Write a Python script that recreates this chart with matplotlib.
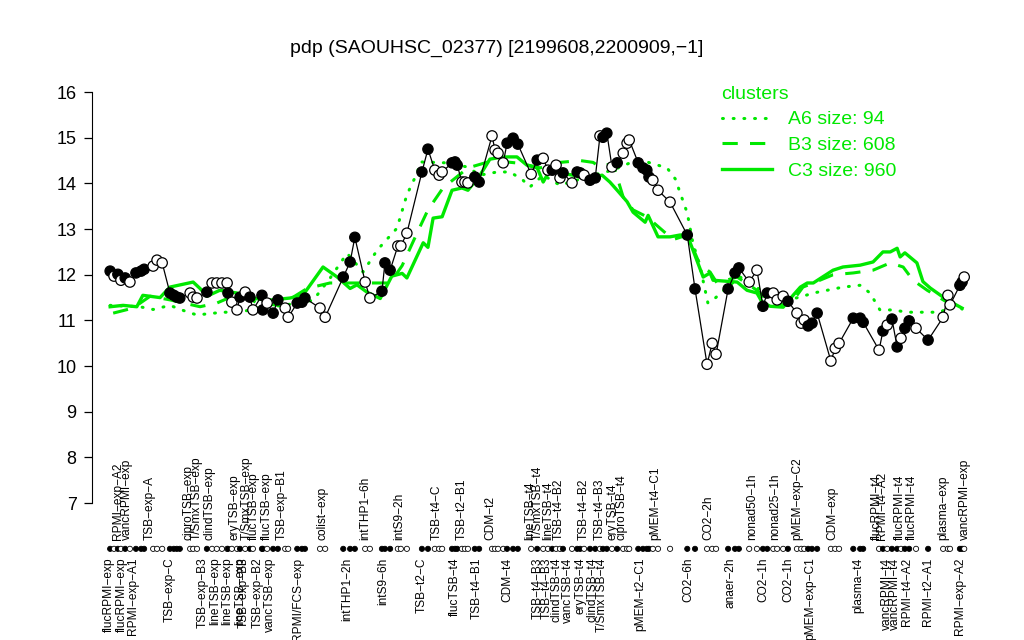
import matplotlib
matplotlib.use("Agg")
import matplotlib.pyplot as plt
from matplotlib.lines import Line2D

plt.rcParams['font.family'] = ['Liberation Sans', 'DejaVu Sans']

# samples: position along the ordering, expression value, filled (1) / open (0)
sample_pos = [0.5, 1.4, 2.3, 3.0, 4.0, 5.1, 6.5, 7.7, 8.4, 10.5, 11.4, 12.6,
              14.4, 15.3, 16.0, 16.7, 19.1, 19.8, 20.7, 23.0, 24.2, 25.3, 26.5, 27.7,
              27.9, 28.8, 30.0, 30.7, 31.9, 33.0, 33.7, 35.8, 36.0, 37.0, 38.4, 39.5,
              41.2, 41.9, 44.0, 45.1, 45.8, 49.3, 50.5, 54.7, 56.3, 57.4, 59.8, 60.9,
              63.7, 64.4, 65.6, 67.4, 68.1, 69.5, 73.0, 74.4, 76.0, 77.0, 77.7, 80.0,
              80.7, 81.2, 82.3, 83.0, 83.7, 85.3, 86.3, 89.3, 90.0, 90.7, 91.9, 92.8,
              94.2, 95.3, 98.4, 99.8, 101.2, 102.3, 103.3, 104.2, 105.1, 105.8, 107.9, 109.1,
              109.8, 110.7, 112.1, 113.3, 114.4, 115.1, 116.0, 117.2, 118.4, 119.8, 120.7, 121.2,
              123.3, 124.4, 125.3, 125.8, 126.7, 127.9, 130.7, 134.7, 136.5, 139.3, 140.5, 141.4,
              144.2, 145.8, 146.7, 149.1, 150.9, 152.3, 153.3, 154.7, 155.6, 157.0, 158.1, 160.2,
              161.2, 161.9, 162.8, 163.7, 164.9, 168.1, 169.1, 170.0, 173.3, 174.9, 175.6, 179.3,
              180.2, 181.2, 182.3, 183.5, 184.4, 185.3, 186.3, 187.9, 190.7, 194.2, 195.3, 195.8,
              198.1, 198.6, 199.1]
sample_val = [12.08, 11.97, 12.01, 11.88, 11.93, 11.84, 12.04, 12.08, 12.12, 12.19, 12.32, 12.26,
              11.60, 11.55, 11.51, 11.49, 11.60, 11.51, 11.49, 11.62, 11.82, 11.82, 11.82, 11.82,
              11.60, 11.40, 11.23, 11.51, 11.62, 11.51, 11.23, 11.55, 11.23, 11.38, 11.16, 11.45,
              11.27, 11.07, 11.38, 11.40, 11.49, 11.27, 11.07, 11.95, 12.28, 12.82, 11.84, 11.49,
              11.64, 12.26, 12.10, 12.63, 12.63, 12.91, 14.25, 14.75, 14.29, 14.18, 14.25, 14.45,
              14.47, 14.40, 14.03, 14.03, 14.01, 14.14, 14.03, 15.04, 14.73, 14.66, 14.45, 14.88,
              14.99, 14.86, 14.20, 14.51, 14.55, 14.29, 14.29, 14.40, 14.12, 14.23, 14.01, 14.25,
              14.23, 14.18, 14.07, 14.12, 15.04, 15.01, 15.10, 14.36, 14.45, 14.66, 14.88, 14.95,
              14.45, 14.34, 14.29, 14.14, 14.07, 13.85, 13.59, 12.87, 11.69, 10.04, 10.50, 10.26,
              11.69, 12.04, 12.15, 11.84, 12.10, 11.31, 11.60, 11.60, 11.45, 11.53, 11.42, 11.16,
              10.94, 11.01, 10.88, 10.94, 11.16, 10.11, 10.39, 10.50, 11.05, 11.05, 10.96, 10.35,
              10.77, 10.90, 11.03, 10.42, 10.61, 10.83, 10.99, 10.83, 10.57, 11.07, 11.55, 11.34,
              11.77, 11.84, 11.95]
sample_filled = [1, 0, 1, 0, 1, 0, 1, 1, 1, 0, 0, 0,
                 1, 1, 1, 1, 0, 0, 0, 1, 0, 0, 0, 0,
                 1, 0, 0, 1, 0, 1, 0, 1, 1, 0, 1, 1,
                 0, 0, 1, 1, 1, 0, 0, 1, 1, 1, 0, 0,
                 1, 1, 1, 0, 0, 0, 1, 1, 0, 0, 0, 1,
                 1, 1, 0, 0, 0, 1, 1, 0, 0, 0, 0, 1,
                 1, 1, 0, 1, 0, 0, 1, 0, 0, 1, 0, 1,
                 1, 0, 1, 1, 0, 1, 1, 0, 1, 0, 0, 0,
                 1, 1, 1, 1, 0, 0, 0, 1, 1, 0, 0, 0,
                 1, 1, 1, 0, 0, 1, 1, 0, 0, 0, 1, 0,
                 0, 0, 1, 1, 1, 0, 0, 0, 1, 1, 1, 0,
                 1, 0, 1, 1, 0, 1, 1, 0, 1, 0, 0, 0,
                 1, 1, 0]

# cluster profiles
a6_pos = [0.5, 7.4, 10.5, 14.4, 18.6, 20.7, 26.7, 30.7, 34.7, 40.7, 47.7, 51.6, 55.6, 59.3,
          62.6, 67.2, 69.5, 71.9, 72.6, 78.8, 83.5, 86.5, 90.5, 93.5, 96.5, 98.1, 101.2, 105.1,
          112.8, 117.4, 121.4, 125.3, 130.0, 131.9, 134.7, 136.0, 137.7, 139.5, 141.2, 144.0,
          147.0, 150.9, 154.0, 157.9, 160.9, 164.0, 167.2, 170.9, 174.9, 177.2, 179.5, 182.6,
          185.8, 189.5, 193.5, 196.5, 198.6]
a6_val = [11.33, 11.30, 11.24, 11.33, 11.18, 11.12, 11.18, 11.18, 11.27, 11.33, 11.44, 11.92,
          12.47, 12.06, 12.54, 13.02, 13.75, 14.23, 14.47, 14.45, 14.36, 14.18, 14.25, 14.25,
          14.07, 13.92, 14.18, 13.96, 14.18, 14.29, 14.45, 14.47, 14.34, 14.10, 13.35, 12.70,
          12.17, 11.38, 11.49, 11.73, 11.95, 11.73, 11.45, 11.45, 11.51, 11.60, 11.66, 11.73,
          11.77, 11.60, 11.23, 11.23, 11.18, 11.18, 11.18, 11.33, 11.25]

b3_pos = [1.2, 5.8, 9.8, 14.4, 21.4, 25.3, 30.7, 34.7, 40.0, 46.3, 51.6, 55.6, 65.6, 68.4,
          71.9, 74.4, 77.9, 83.7, 89.5, 95.8, 100.5, 105.1, 109.8, 112.8, 114.4, 117.4, 119.8,
          122.1, 125.3, 131.4, 134.7, 137.7, 140.0, 141.6, 146.3, 150.9, 154.0, 157.9, 160.2,
          161.6, 164.0, 168.6, 173.3, 177.9, 181.9, 184.9, 187.2, 190.5, 195.1, 198.6]
b3_val = [11.16, 11.27, 11.53, 11.45, 11.30, 11.38, 11.60, 11.38, 11.33, 11.70, 11.82, 11.82,
          11.82, 12.20, 12.92, 13.42, 13.90, 14.34, 14.50, 14.44, 14.34, 14.46, 14.50, 14.46,
          14.36, 14.44, 13.70, 13.42, 13.27, 12.77, 12.87, 12.21, 12.06, 11.82, 11.95, 11.66,
          11.38, 11.33, 11.55, 11.73, 11.82, 12.00, 12.04, 12.10, 12.26, 12.17, 11.88, 11.66,
          11.40, 11.23]

c3_pos = [0.5, 3.5, 6.7, 8.1, 12.1, 14.4, 19.8, 21.4, 23.0, 26.0, 30.0, 32.3, 37.0, 42.3,
          45.3, 50.0, 53.3, 56.3, 57.9, 60.2, 63.3, 66.0, 68.4, 69.5, 73.3, 74.4, 75.6, 77.7,
          80.0, 82.3, 83.7, 86.5, 88.8, 91.2, 93.0, 95.1, 97.4, 99.8, 101.2, 102.8, 105.1, 108.1,
          111.4, 114.9, 116.7, 118.4, 120.7, 122.1, 124.9, 125.6, 127.9, 130.7, 133.0, 134.7,
          138.4, 140.0, 140.7, 146.3, 148.6, 150.9, 152.1, 154.0, 157.0, 159.3, 161.0, 162.6,
          164.0, 168.6, 170.9, 174.9, 177.9, 180.2, 181.9, 183.5, 184.2, 185.3, 188.1, 189.5,
          191.2, 195.1, 198.6]
c3_val = [11.30, 11.33, 11.30, 11.55, 11.50, 11.73, 11.84, 11.70, 11.53, 11.66, 11.60, 11.51,
          11.44, 11.49, 11.55, 12.17, 11.95, 11.70, 11.78, 11.62, 11.48, 11.97, 12.03, 11.93,
          12.70, 12.60, 13.24, 13.27, 13.85, 13.90, 13.85, 14.18, 14.53, 14.57, 14.58, 14.58,
          14.40, 14.34, 14.03, 14.30, 14.23, 14.18, 14.11, 14.18, 14.03, 13.85, 13.60, 13.37,
          13.15, 13.30, 12.83, 12.83, 12.87, 12.87, 11.95, 12.04, 11.88, 11.84, 11.66, 11.60,
          11.40, 11.31, 11.29, 11.55, 11.73, 11.82, 11.82, 12.10, 12.17, 12.21, 12.28, 12.50,
          12.50, 12.58, 12.39, 12.48, 12.26, 11.85, 11.71, 11.45, 11.27]

# sample names, split in two rows as in the original
upper_labels = ["RPMI-exp-A2", "vancRPMI-exp", "TSB-exp-A", "ciproTSB-exp", "T/SmxTSB-exp",
                "clindTSB-exp", "eryTSB-exp", "T/SmxTSB-exp", "flucTSB-exp", "flucTSB-exp",
                "TSB-exp-B1", "colist-exp", "intTHP1-6h", "intS9-2h", "TSB-t4-C", "TSB-t2-B1",
                "CDM-t2", "lineTSB-t4", "T/SmxTSB-t4", "lineTSB-t4", "TSB-t4-B2", "TSB-t4-B2",
                "TSB-t4-B3", "eryTSB-t4", "ciproTSB-t4", "pMEM-t4-C1", "CO2-2h", "nonad50-1h",
                "nonad25-1h", "pMEM-exp-C2", "CDM-exp", "flucRPMI-t4", "RPMI-t4-A2",
                "flucRPMI-t4", "flucRPMI-t4", "plasma-exp", "vancRPMI-exp"]
upper_pos = [2.3, 4.4, 9.8, 18.8, 20.7, 23.7, 29.5, 32.3, 34.0, 37.0, 40.5, 49.8, 59.8, 67.7,
             76.5, 82.3, 88.8, 98.1, 100.0, 102.3, 104.7, 110.5, 114.4, 117.4, 119.5, 127.2,
             139.5, 149.8, 155.1, 160.2, 168.4, 178.8, 180.0, 184.2, 187.0, 194.2, 199.3]
lower_labels = ["flucRPMI-exp", "flucRPMI-exp", "RPMI-exp-A1", "TSB-exp-C", "TSB-exp-B3",
                "lineTSB-exp", "lineTSB-exp", "lineTSB-exp", "TSB-exp-B3", "TSB-exp-B2",
                "vancTSB-exp", "RPMI/FCS-exp", "intTHP1-2h", "intS9-6h", "TSB-t2-C",
                "flucTSB-t4", "TSB-t4-B1", "CDM-t4", "TSB-t4-B3", "TSB-t4-B3", "clindTSB-t4",
                "vancTSB-t4", "eryTSB-t4", "clindTSB-t4", "T/SmxTSB-t4", "pMEM-t2-C1", "CO2-6h",
                "anaer-2h", "CO2-1h", "CO2-1h", "pMEM-exp-C1", "plasma-t4", "vancRPMI-t4",
                "vancRPMI-t4", "RPMI-t4-A2", "RPMI-t2-A1", "RPMI-exp-A2"]
lower_pos = [0.3, 3.3, 5.8, 14.4, 22.1, 24.9, 27.7, 30.7, 31.6, 34.7, 37.7, 44.2, 55.6, 64.0,
             73.0, 80.7, 85.8, 92.8, 99.8, 102.1, 104.4, 107.0, 109.8, 112.6, 114.9, 123.7,
             134.9, 144.7, 152.3, 158.1, 163.3, 174.4, 181.2, 183.0, 185.8, 190.7, 198.1]

GREEN = '#00E800'

fig = plt.figure(figsize=(10.24, 6.4), dpi=100)
ax = fig.add_axes([92 / 1024, 1 - 519.6 / 640, 892 / 1024, 444 / 640])
ax.set_xlim(-3.72, 203.7)
ax.set_ylim(6.64, 16.36)

# cluster means
ax.plot(a6_pos, a6_val, color=GREEN, lw=2.2, linestyle=(0, (0.3, 3.2)),
        dash_capstyle='round', zorder=2)
ax.plot(b3_pos, b3_val, color=GREEN, lw=2.2, linestyle=(0, (5, 4)), zorder=2)
ax.plot(c3_pos, c3_val, color=GREEN, lw=2.4, zorder=2)

# gene profile
ax.plot(sample_pos, sample_val, color='black', lw=0.9, zorder=3)
faces = ['black' if f else 'white' for f in sample_filled]
ax.scatter(sample_pos, sample_val, s=55, c=faces, edgecolors='black', linewidths=0.9, zorder=4)

# rug of samples below the axis
ax.scatter(sample_pos, [6.0] * len(sample_pos), s=14, c=faces, edgecolors='black',
           linewidths=0.6, zorder=4, clip_on=False)

for p, lab in zip(upper_pos, upper_labels):
    ax.text(p, 6.19, lab.replace('-', '\u2212'), rotation=90, ha='center', va='bottom',
            fontsize=8.6, clip_on=False)
for p, lab in zip(lower_pos, lower_labels):
    ax.text(p, 5.81, lab.replace('-', '\u2212'), rotation=90, ha='center', va='top',
            fontsize=8.6, clip_on=False)

# axes in R style
for s in ['top', 'right', 'bottom']:
    ax.spines[s].set_visible(False)
ax.spines['left'].set_bounds(7, 16)
ax.set_xticks([])
ax.set_yticks(range(7, 17))
ax.tick_params(axis='y', labelsize=13, length=6, width=0.9, pad=5)

fig.text(497 / 1024, 1 - 48 / 640, 'pdp (SAOUHSC_02377) [2199608,2200909,\u22121]',
         ha='center', va='center', fontsize=14)

handles = [Line2D([], [], color=GREEN, lw=2.2, linestyle=(0, (0.3, 3.2)), dash_capstyle='round'),
           Line2D([], [], color=GREEN, lw=2.2, linestyle=(0, (5, 4))),
           Line2D([], [], color=GREEN, lw=2.4)]
leg = fig.legend(handles, ['A6 size: 94', 'B3 size: 608', 'C3 size: 960'],
                 loc='upper left', bbox_to_anchor=(708 / 1024, 1 - 72 / 640),
                 frameon=False, fontsize=14, title='clusters', title_fontsize=14,
                 handlelength=2.6, handletextpad=0.8, labelspacing=0.42,
                 alignment='left', borderpad=0.2)
leg.get_title().set_color(GREEN)
for t in leg.get_texts():
    t.set_color(GREEN)

fig.savefig('out.png', dpi=100)
